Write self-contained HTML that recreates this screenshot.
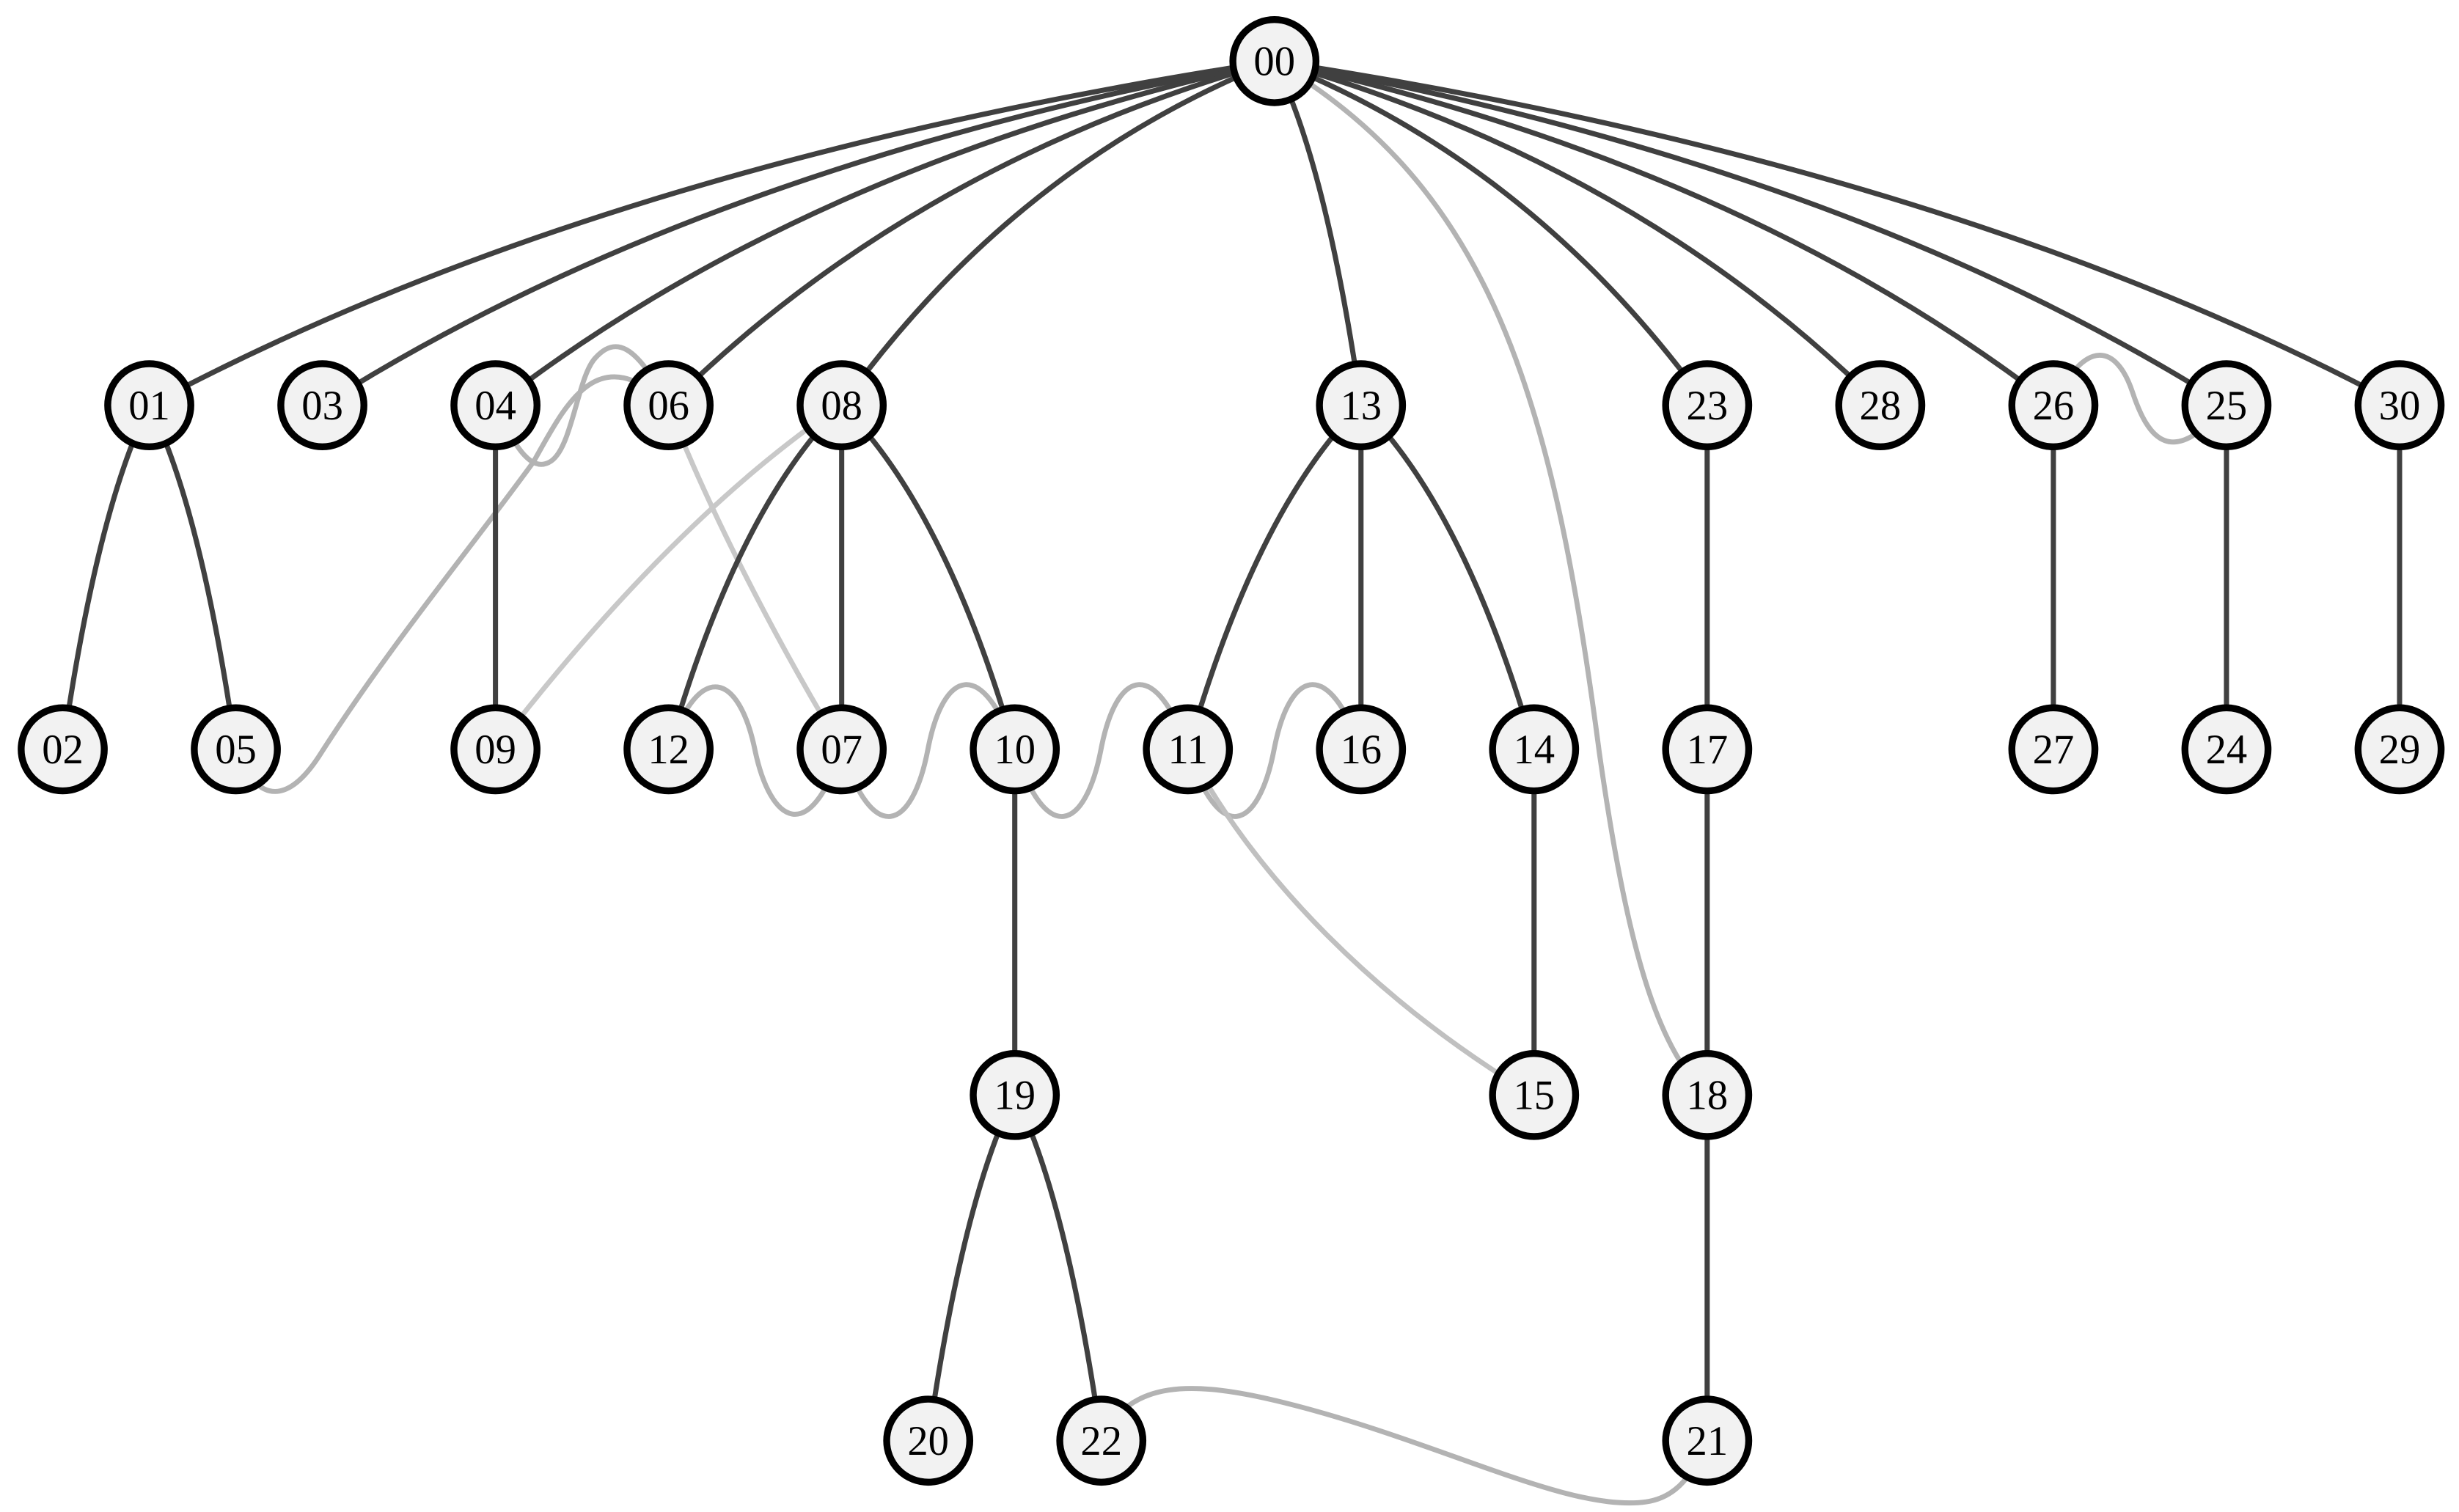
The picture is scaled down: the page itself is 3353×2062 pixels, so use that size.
<!DOCTYPE html>
<html><head><meta charset="utf-8"><style>
html,body{margin:0;padding:0;background:#fff}
svg{display:block}
text{font-family:"Liberation Serif",serif;font-size:26.5px;fill:#000}
</style></head><body>
<svg id="s" width="3353" height="2062" viewBox="0 0 1568.3 964.5" preserveAspectRatio="none" xmlns="http://www.w3.org/2000/svg">
<g id="gray" fill="none" stroke="#b3b3b3" stroke-width="3.2">
<path d="M316,258 C330,290 340,300 350,295 C365,288 368,240 380,228 C392,215 405,218 426,258"/>
<path d="M150,478 C165,515 185,512 205,480 C250,410 300,350 340,295 C360,260 380,215 426,258"/>
<path d="M426,258 C450,320 490,400 537,478" stroke="#c8c8c8"/>
<path d="M537,258 Q430,330 316,478" stroke="#c8c8c8"/>
<path d="M426.4,478 C446.4,420 471.4,430 481.4,478 S516.4,540 536.8,478"/>
<path d="M536.8,478 C556.8,540 581.8,530 591.8,478 S626.8,420 647.2,478"/>
<path d="M647.2,478 C667.2,540 692.2,530 702.2,478 S737.2,420 757.6,478"/>
<path d="M757.6,478 C777.6,540 802.6,530 812.6,478 S847.6,420 868,478"/>
<path d="M757.6,478 C800,560 880,640 978.4,699" stroke="#c0c0c0"/>
<path d="M812.8,39 C950,120 990,250 1020,480 C1040,620 1060,670 1088.8,699"/>
<path d="M1309.6,258 C1330,215 1350,220 1360,250 C1370,280 1385,300 1420,258"/>
<path d="M702.4,919 C720,880 760,880 820,895 C920,920 1000,965 1050,958 C1070,955 1080,940 1088.8,919"/>
</g>
<g id="dark" fill="none" stroke="#404040" stroke-width="3.3"></g>
<g id="nodes"></g>
</svg>
<script>
var R=[39,258.5,478,698.5,919];
function X(j){return 40+55.2*j;}
var N={"00":[14,0],"01":[1,1],"03":[3,1],"04":[5,1],"06":[7,1],"08":[9,1],"13":[15,1],"23":[19,1],"28":[21,1],"26":[23,1],"25":[25,1],"30":[27,1],
"02":[0,2],"05":[2,2],"09":[5,2],"12":[7,2],"07":[9,2],"10":[11,2],"11":[13,2],"16":[15,2],"14":[17,2],"17":[19,2],"27":[23,2],"24":[25,2],"29":[27,2],
"19":[11,3],"15":[17,3],"18":[19,3],"20":[10,4],"22":[12,4],"21":[19,4]};
var E=[["00","01"],["00","03"],["00","04"],["00","06"],["00","08"],["00","13"],["00","23"],["00","28"],["00","26"],["00","25"],["00","30"],
["01","02"],["01","05"],["04","09"],["08","12"],["08","07"],["08","10"],["13","11"],["13","16"],["13","14"],["23","17"],["26","27"],["25","24"],["30","29"],
["10","19"],["14","15"],["17","18"],["19","20"],["19","22"],["18","21"]];
var ns="http://www.w3.org/2000/svg";
var dg=document.getElementById("dark"),ng=document.getElementById("nodes");
E.forEach(function(e){var a=N[e[0]],b=N[e[1]];var px=X(a[0]),py=R[a[1]],cx=X(b[0]),cy=R[b[1]];
var qx=px+(cx-px)*0.6,qy=py+(cy-py)*0.3;
var p=document.createElementNS(ns,"path");p.setAttribute("d","M"+px+","+py+" Q"+qx+","+qy+" "+cx+","+cy);dg.appendChild(p);});
for(var k in N){var x=X(N[k][0]),y=R[N[k][1]];
var c=document.createElementNS(ns,"circle");c.setAttribute("cx",x);c.setAttribute("cy",y);c.setAttribute("r",26.5);
c.setAttribute("fill","#f2f2f2");c.setAttribute("stroke","#000");c.setAttribute("stroke-width","4.4");ng.appendChild(c);
var t=document.createElementNS(ns,"text");t.setAttribute("x",x);t.setAttribute("y",y+9);t.setAttribute("text-anchor","middle");t.textContent=k;ng.appendChild(t);}
</script>
</body></html>
